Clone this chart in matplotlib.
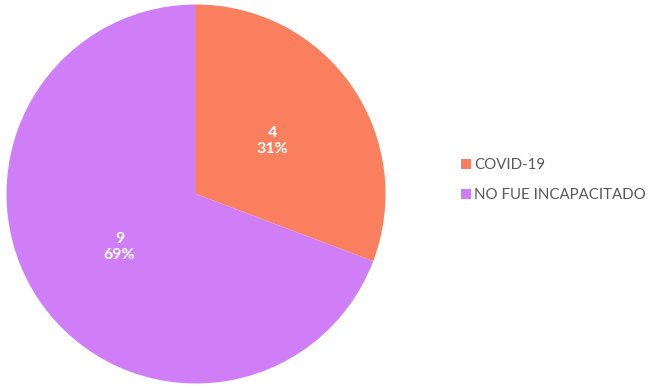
import matplotlib
matplotlib.use("Agg")
import matplotlib.pyplot as plt
from matplotlib.lines import Line2D
import numpy as np

categories = ["COVID-19", "NO FUE INCAPACITADO"]
counts = [4, 9]
colors = ["#F97F5E", "#CF7EF7"]

plt.rcParams["font.family"] = ["Lato", "DejaVu Sans"]

W, H = 653, 386
fig = plt.figure(figsize=(W / 100, H / 100), dpi=100)

cx, cy, r = 196, 194, 189.5
ax = fig.add_axes([(cx - r) / W, (H - cy - r) / H, 2 * r / W, 2 * r / H])
total = sum(counts)

wedges, _ = ax.pie(counts, colors=colors, startangle=90, counterclock=False,
                   radius=1.0, wedgeprops=dict(linewidth=0))
ax.set_xlim(-1, 1)
ax.set_ylim(-1, 1)
ax.set_aspect("equal")
ax.axis("off")

start = 90.0
for w, v in zip(wedges, counts):
    span = 360.0 * v / total
    mid = np.deg2rad(start - span / 2)
    start -= span
    d = 0.49
    ax.text(d * np.cos(mid), d * np.sin(mid), f"{v}\n{round(100 * v / total)}%",
            ha="center", va="center", color="white", fontsize=11.5,
            fontweight="bold", linespacing=1.2)

handles = [Line2D([0], [0], marker="s", linestyle="none", markersize=7,
                  markerfacecolor=c, markeredgewidth=0) for c in colors]
leg = fig.legend(handles, categories, loc="center left",
                 bbox_to_anchor=(455 / W, 1 - 180 / H), frameon=False,
                 fontsize=10.8, labelcolor="#595959", handlelength=0.6,
                 handletextpad=0.3, labelspacing=1.1, borderaxespad=0)

fig.savefig("out.png", dpi=100)
